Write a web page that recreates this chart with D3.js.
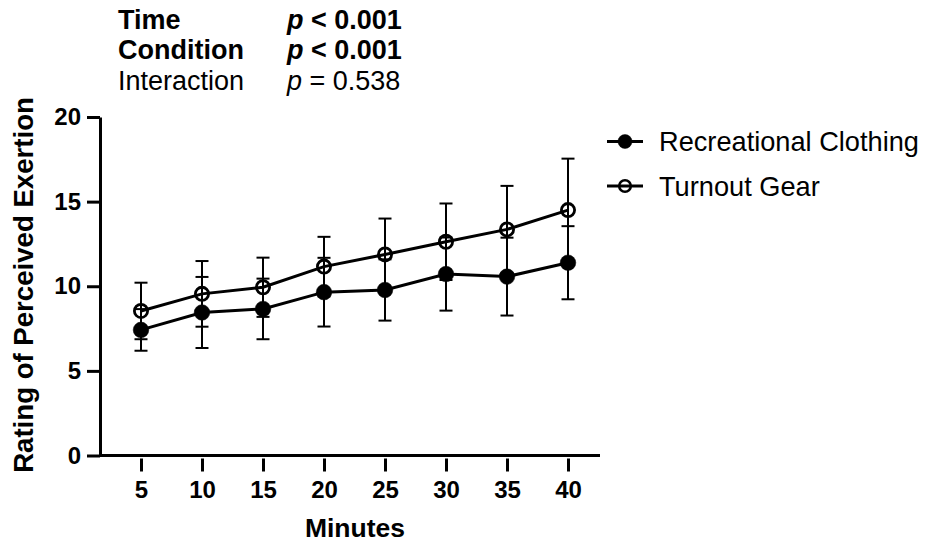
<!DOCTYPE html>
<html>
<head>
<meta charset="utf-8">
<script src="https://cdn.jsdelivr.net/npm/d3@7.9.0/dist/d3.min.js"></script>
<style>
  body { margin: 0; background: #fff; }
  svg { font-family: "Liberation Sans", Arial, sans-serif; }
</style>
</head>
<body>
<svg id="chart" width="926" height="545"></svg>
<script>
// data (mean ± SD)
const minutes = [5, 10, 15, 20, 25, 30, 35, 40];
const recMean = [7.42, 8.45, 8.66, 9.65, 9.78, 10.72, 10.57, 11.39];
const recSD = [1.23, 2.1, 1.79, 2.03, 1.81, 2.16, 2.3, 2.16];
const gearMean = [8.54, 9.55, 9.94, 11.16, 11.88, 12.63, 13.36, 14.5];
const gearSD = [1.67, 1.94, 1.75, 1.76, 2.12, 2.26, 2.57, 3.04];
const yTicks = [0, 5, 10, 15, 20];
const stats = [
  { label: "Time", p: "< 0.001", bold: true },
  { label: "Condition", p: "< 0.001", bold: true },
  { label: "Interaction", p: "= 0.538", bold: false }
];

const series = [
  { name: "Recreational Clothing", mean: recMean, sd: recSD, open: false },
  { name: "Turnout Gear", mean: gearMean, sd: gearSD, open: true }
];

const svg = d3.select("#chart");
const x = d3.scaleLinear().domain([5, 40]).range([141, 568]);
const y = d3.scaleLinear().domain([0, 20]).range([455.5, 117]);

// y axis
const yAxis = svg.append("g")
  .attr("transform", "translate(100,0)")
  .call(d3.axisLeft(y).tickValues(yTicks).tickSize(13).tickSizeOuter(0).tickPadding(6));
yAxis.select(".domain").attr("stroke-width", 3);
yAxis.selectAll(".tick line").attr("stroke-width", 3);
yAxis.selectAll(".tick text")
  .attr("font-size", 24).attr("font-weight", "bold").attr("fill", "#000")
  .attr("font-family", "Liberation Sans, Arial, sans-serif");

// x axis baseline
svg.append("line")
  .attr("x1", 100).attr("x2", 600)
  .attr("y1", y(0)).attr("y2", y(0))
  .attr("stroke", "#000").attr("stroke-width", 3);

const xAxis = svg.append("g")
  .attr("transform", `translate(0,${y(0) + 3})`)
  .call(d3.axisBottom(x).tickValues(minutes).tickSize(13).tickPadding(9));
xAxis.select(".domain").remove();
xAxis.selectAll(".tick line").attr("stroke-width", 3);
xAxis.selectAll(".tick text")
  .attr("font-size", 24).attr("font-weight", "bold").attr("fill", "#000")
  .attr("font-family", "Liberation Sans, Arial, sans-serif");

// axis titles
svg.append("text")
  .attr("x", 355).attr("y", 537)
  .attr("text-anchor", "middle")
  .attr("font-size", 26.5).attr("font-weight", "bold")
  .text("Minutes");

svg.append("text")
  .attr("transform", "translate(33,285) rotate(-90)")
  .attr("text-anchor", "middle")
  .attr("font-size", 27.6).attr("font-weight", "bold")
  .text("Rating of Perceived Exertion");

// error bars
const cap = 6.5;
series.forEach(s => {
  const g = svg.append("g").attr("stroke", "#000").attr("stroke-width", 2);
  minutes.forEach((m, i) => {
    const lo = y(s.mean[i] - s.sd[i]), hi = y(s.mean[i] + s.sd[i]);
    g.append("line").attr("x1", x(m)).attr("x2", x(m)).attr("y1", lo).attr("y2", hi);
    g.append("line").attr("x1", x(m) - cap).attr("x2", x(m) + cap).attr("y1", lo).attr("y2", lo);
    g.append("line").attr("x1", x(m) - cap).attr("x2", x(m) + cap).attr("y1", hi).attr("y2", hi);
  });
});

// lines
const line = d3.line().x((d, i) => x(minutes[i])).y(d => y(d));
series.forEach(s => {
  svg.append("path")
    .attr("d", line(s.mean))
    .attr("fill", "none").attr("stroke", "#000").attr("stroke-width", 3);
});

// symbols
series.forEach(s => {
  svg.append("g").selectAll("circle")
    .data(s.mean)
    .join("circle")
    .attr("cx", (d, i) => x(minutes[i]))
    .attr("cy", d => y(d))
    .attr("r", s.open ? 6.6 : 7.8)
    .attr("fill", s.open ? "none" : "#000")
    .attr("stroke", "#000")
    .attr("stroke-width", s.open ? 2.8 : 0.5);
});

// legend
const legend = svg.append("g");
series.forEach((s, i) => {
  const ly = 141.5 + i * 44.5;
  legend.append("line")
    .attr("x1", 607).attr("x2", 643).attr("y1", ly).attr("y2", ly)
    .attr("stroke", "#000").attr("stroke-width", 3);
  legend.append("circle")
    .attr("cx", 625).attr("cy", ly)
    .attr("r", s.open ? 5.8 : 7)
    .attr("fill", s.open ? "none" : "#000")
    .attr("stroke", "#000").attr("stroke-width", s.open ? 2.6 : 0.5);
  legend.append("text")
    .attr("x", 659).attr("y", ly + 9.5)
    .attr("font-size", 27.2)
    .text(s.name);
});

// statistics block
stats.forEach((d, i) => {
  const by = 28.5 + i * 30.5;
  svg.append("text")
    .attr("x", 118).attr("y", by)
    .attr("font-size", 27).attr("font-weight", d.bold ? "bold" : "normal")
    .text(d.label);
  const t = svg.append("text")
    .attr("x", 287).attr("y", by)
    .attr("font-size", 27).attr("font-weight", d.bold ? "bold" : "normal");
  t.append("tspan").attr("font-style", "italic").text("p");
  t.append("tspan").text(" " + d.p);
});
</script>
</body>
</html>
